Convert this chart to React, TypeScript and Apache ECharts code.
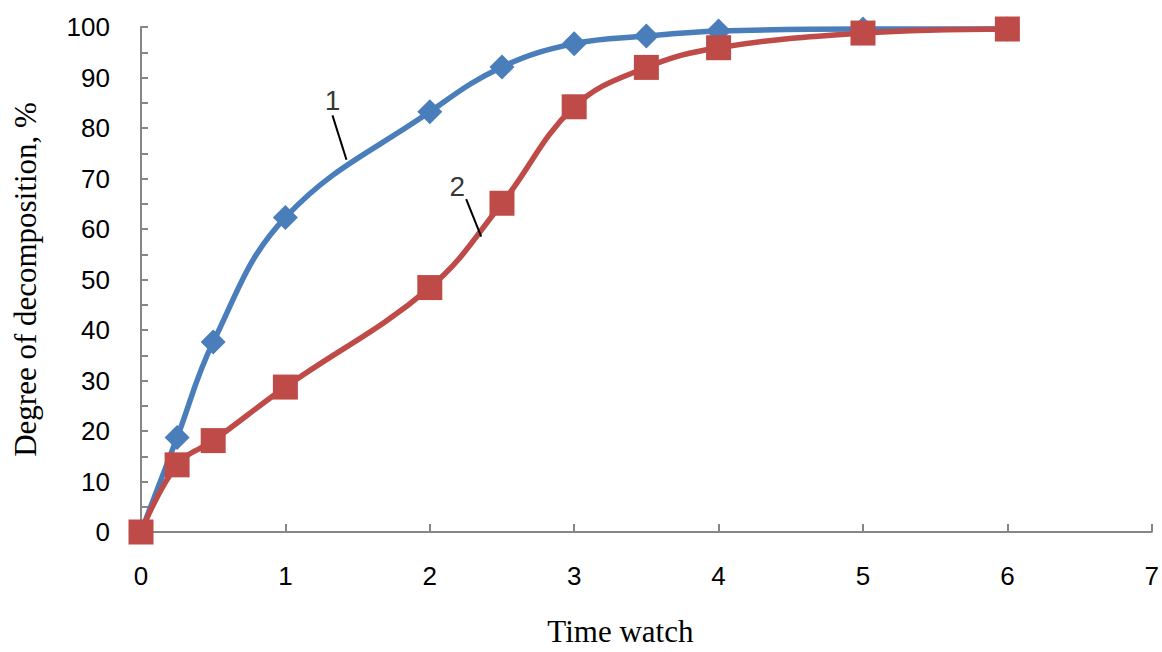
import React, { useEffect, useRef } from "react";
import * as echarts from "echarts";

const timeHours1 = [0, 0.25, 0.5, 1, 2, 2.5, 3, 3.5, 4, 5, 6];
const decomposition1 = [0, 18.7, 37.6, 62.3, 83.2, 92.1, 96.7, 98.2, 99.2, 99.6, 99.6];
const timeHours2 = [0, 0.25, 0.5, 1, 2, 2.5, 3, 3.5, 4, 5, 6];
const decomposition2 = [0, 13.3, 18.1, 28.7, 48.4, 65.1, 84.2, 92.0, 95.9, 98.8, 99.6];
const annotationLabels = ["1", "2"];
const annotationPoints = [
  [1.326, 85.5],
  [2.19, 68.4],
];
const leaderLines = [
  [[1.326, 82.5], [1.423, 73.7]],
  [[2.252, 65.9], [2.356, 58.5]],
];

export default function App() {
  const ref = useRef<HTMLDivElement>(null);
  useEffect(() => {
    if (!ref.current) return;
    const chart = echarts.init(ref.current, undefined, { renderer: "svg" });
    const sans = "'Liberation Sans', Arial, sans-serif";
    const serif = "'Liberation Serif', 'Times New Roman', serif";
    const axisColor = "#868686";
    chart.setOption({
      animation: false,
      backgroundColor: "#ffffff",
      grid: { left: 141, right: 8, top: 27, bottom: 112, containLabel: false },
      xAxis: {
        type: "value",
        min: 0,
        max: 7,
        interval: 1,
        name: "Time watch",
        nameLocation: "middle",
        nameGap: 84,
        nameTextStyle: { fontFamily: serif, fontSize: 31, color: "#000", padding: [0, 52, 0, 0] },
        axisLine: { show: true, onZero: false, lineStyle: { color: axisColor, width: 2 } },
        axisTick: { show: true, inside: true, length: 8, lineStyle: { color: axisColor, width: 2 } },
        axisLabel: { fontFamily: sans, fontSize: 26, color: "#000", margin: 31 },
        splitLine: { show: false },
      },
      yAxis: {
        type: "value",
        min: 0,
        max: 100,
        interval: 10,
        name: "Degree of decomposition, %",
        nameLocation: "middle",
        nameGap: 100,
        nameTextStyle: { fontFamily: serif, fontSize: 31, color: "#000" },
        axisLine: { show: true, lineStyle: { color: axisColor, width: 2 } },
        axisTick: { show: true, inside: true, length: 7, lineStyle: { color: axisColor, width: 2 } },
        minorTick: { show: true, splitNumber: 2, length: 7, lineStyle: { color: axisColor, width: 2 } },
        axisLabel: { fontFamily: sans, fontSize: 26, color: "#000", margin: 31 },
        splitLine: { show: false },
      },
      series: [
        {
          name: "1",
          type: "line",
          smooth: 0.4,
          data: timeHours1.map((t, i) => [t, decomposition1[i]]),
          symbol: "diamond",
          symbolSize: 25,
          lineStyle: { color: "#4a7ebb", width: 5.5 },
          itemStyle: { color: "#4a7ebb" },
          z: 2,
        },
        {
          name: "2",
          type: "line",
          smooth: 0.4,
          data: timeHours2.map((t, i) => [t, decomposition2[i]]),
          symbol: "rect",
          symbolSize: 25,
          lineStyle: { color: "#be4b48", width: 5.5 },
          itemStyle: { color: "#be4b48" },
          z: 3,
        },
        {
          name: "annotations",
          type: "scatter",
          symbolSize: 0,
          data: annotationPoints.map((p, i) => ({ value: p, name: annotationLabels[i] })),
          label: {
            show: true,
            position: "inside",
            formatter: (p: any) => p.name,
            fontFamily: sans,
            fontSize: 28,
            color: "#000",
          },
          markLine: {
            silent: true,
            symbol: ["none", "none"],
            label: { show: false },
            lineStyle: { color: "#000", width: 2, type: "solid" },
            data: leaderLines.map((l) => [{ coord: l[0] }, { coord: l[1] }]),
          },
          z: 5,
        },
      ],
    });
    return () => chart.dispose();
  }, []);
  return (
    <div
      ref={ref}
      style={{ position: "absolute", left: 0, top: 0, width: 1162, height: 652 }}
    />
  );
}
